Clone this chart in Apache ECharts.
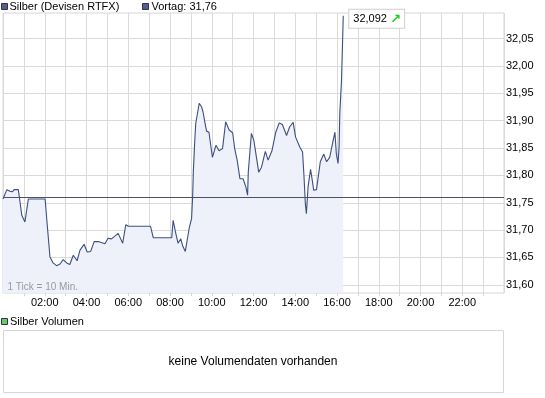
<!DOCTYPE html>
<html>
<head>
<meta charset="utf-8">
<script src="https://cdn.jsdelivr.net/npm/echarts@6/dist/echarts.min.js"></script>
<style>
html,body{margin:0;padding:0;background:#fff;}
#c{width:545px;height:398px;}
</style>
</head>
<body>
<div id="c"></div>
<script>
// Time of each quote in minutes after midnight
const minutes = [0,11,20,27,32,44,49,54,63,68,73,121,126,135,144,154,164,173,183,192,202,213,221,233,242,252,262,274,293,302,312,331,344,353,360,370,424,432,485,489,496,503,511,516,524,535,542,545,547,551,554,564,571,575,580,585,592,599,602,612,621,631,640,650,660,666,673,681,690,698,703,705,714,721,735,743,754,762,773,784,794,803,815,824,834,841,853,861,865,869,872,877,884,889,893,901,906,912,922,930,939,947,954,958,963,966,968,973,978];
// Price of silver (USD) at those times
const prices = [31.757,31.774,31.771,31.770,31.774,31.774,31.751,31.727,31.715,31.736,31.757,31.757,31.718,31.651,31.640,31.635,31.638,31.646,31.640,31.637,31.654,31.644,31.663,31.674,31.660,31.661,31.679,31.679,31.675,31.685,31.684,31.694,31.676,31.710,31.707,31.707,31.707,31.686,31.686,31.718,31.696,31.676,31.684,31.672,31.661,31.703,31.721,31.760,31.806,31.861,31.895,31.932,31.925,31.916,31.898,31.881,31.879,31.846,31.833,31.855,31.845,31.849,31.898,31.883,31.878,31.849,31.828,31.794,31.794,31.779,31.764,31.806,31.877,31.864,31.806,31.815,31.844,31.828,31.845,31.879,31.896,31.893,31.873,31.889,31.897,31.870,31.852,31.843,31.800,31.748,31.730,31.780,31.811,31.791,31.773,31.774,31.797,31.825,31.839,31.825,31.833,31.858,31.879,31.840,31.822,31.852,31.913,31.974,32.092];
const priceTicks = [31.60,31.65,31.70,31.75,31.80,31.85,31.90,31.95,32.00,32.05];
const hourTicks = ['02:00','04:00','06:00','08:00','10:00','12:00','14:00','16:00','18:00','20:00','22:00'];
const seriesName = 'Silber (Devisen RTFX)';
const prevClose = 31.76;
const volumeName = 'Silber Volumen';
const volumeNote = 'keine Volumendaten vorhanden';
const tickNote = '1 Tick = 10 Min.';

const FONT = "'Liberation Sans', Arial, sans-serif";
const fmt = (v, d) => v.toFixed(d).replace('.', ',');
const data = minutes.map((m, i) => [m, prices[i]]);

const chart = echarts.init(document.getElementById('c'), null, {renderer: 'canvas'});
chart.setOption({
  animation: false,
  backgroundColor: '#fff',
  textStyle: {fontFamily: FONT},
  grid: {left: 3, right: 41, top: 13, bottom: 105, show: true, borderColor: '#d6d6d6', borderWidth: 1, containLabel: false},
  xAxis: {
    type: 'value', min: 0, max: 1440, interval: 60,
    axisLine: {show: false},
    axisTick: {show: true, length: 3, lineStyle: {color: '#d6d6d6'}},
    splitLine: {show: true, lineStyle: {color: '#dadada', width: 1}},
    axisLabel: {
      margin: 4, color: '#000', fontSize: 11, fontFamily: FONT,
      showMinLabel: false, showMaxLabel: false,
      formatter: function (v) {
        const h = Math.round(v / 60);
        const s = (h < 10 ? '0' : '') + h + ':00';
        return hourTicks.indexOf(s) >= 0 ? s : '';
      }
    }
  },
  yAxis: {
    type: 'value', position: 'right', min: 31.585, max: 32.097, scale: true,
    axisLine: {show: false},
    axisTick: {show: false, customValues: priceTicks},
    splitLine: {show: true, lineStyle: {color: '#dadada', width: 1}},
    axisLabel: {
      customValues: priceTicks, margin: 2, color: '#000', fontSize: 11, fontFamily: FONT,
      formatter: v => fmt(v, 2)
    }
  },
  series: [{
    name: seriesName,
    type: 'line',
    data: data,
    symbol: 'none',
    lineStyle: {color: '#3d4f80', width: 1.1},
    areaStyle: {color: '#eef1fa', opacity: 1, origin: 'start'},
    z: 3,
    endLabel: {
      show: true,
      distance: 6,
      offset: [0, 3],
      formatter: p => '{v|' + fmt(p.value[1], 3) + '} {a|↗}',
      backgroundColor: '#fff',
      borderColor: '#cfcfcf',
      borderWidth: 1,
      padding: [3, 3, 2, 4],
      rich: {
        v: {fontSize: 11, color: '#000', fontFamily: FONT},
        a: {fontSize: 13, color: '#22cc22', fontWeight: 'bold', fontFamily: 'DejaVu Sans'}
      }
    },
    markLine: {
      silent: true,
      symbol: 'none',
      label: {show: false},
      lineStyle: {color: '#4a5068', width: 1, type: 'solid'},
      data: [{yAxis: prevClose}]
    }
  }],
  graphic: [
    {type: 'rect', shape: {x: 1.5, y: 3.5, width: 6, height: 6}, style: {fill: '#56608a', stroke: '#2e3348', lineWidth: 1}},
    {type: 'text', x: 9.5, y: 6.5, style: {text: seriesName, font: '11px ' + FONT, fill: '#000', verticalAlign: 'middle'}},
    {type: 'rect', shape: {x: 142.5, y: 3.5, width: 6, height: 6}, style: {fill: '#56608a', stroke: '#2e3348', lineWidth: 1}},
    {type: 'text', x: 151.5, y: 6.5, style: {text: 'Vortag: ' + fmt(prevClose, 2), font: '11px ' + FONT, fill: '#000', verticalAlign: 'middle'}},
    {type: 'text', x: 7.5, y: 287, z: 10, style: {text: tickNote, font: '10px ' + FONT, fill: '#9a9a9a', verticalAlign: 'middle'}},
    {type: 'rect', shape: {x: 1.5, y: 318.5, width: 6, height: 6}, style: {fill: '#66cc66', stroke: '#2e3348', lineWidth: 1}},
    {type: 'text', x: 10, y: 321.5, style: {text: volumeName, font: '11px ' + FONT, fill: '#000', verticalAlign: 'middle'}},
    {type: 'rect', shape: {x: 3.5, y: 330.5, width: 500, height: 62}, style: {fill: '#fff', stroke: '#d6d6d6', lineWidth: 1}},
    {type: 'text', x: 253, y: 361.5, style: {text: volumeNote, font: '12px ' + FONT, fill: '#000', align: 'center', verticalAlign: 'middle'}}
  ]
});
</script>
</body>
</html>
